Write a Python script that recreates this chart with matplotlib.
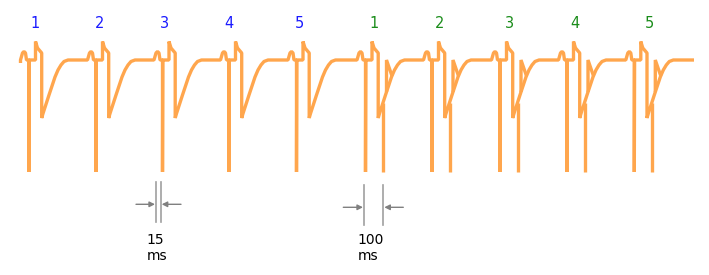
import matplotlib
matplotlib.use("Agg")
import matplotlib.pyplot as plt
import numpy as np

# stimulus times (in pixel units of the picture, x grows to the right, y grows down)
BLUE_SPIKES = [29, 96, 162.5, 229, 296.5]
GREEN_SPIKES = [365.5, 432, 500, 567, 634.3]
BLUE_LABELS = ['1', '2', '3', '4', '5']
GREEN_LABELS = ['1', '2', '3', '4', '5']
BLUE_LABEL_X = [34.7, 99.7, 164.3, 229, 299.7]
GREEN_LABEL_X = [374.3, 439.5, 509.5, 574.5, 649.5]

# one beat: bump, stimulus spike, upstroke, drop and recovery
BEAT_DX = [-8.5, -6.5, -5, -3.5, -2.5, 0, 0, 0.3, 6.5, 6.5, 8.5, 12.7, 12.7, 14, 20, 26, 29, 32, 35, 39]
BEAT_Y = [60, 53, 51.5, 53, 60, 60, 172, 60, 60, 41.5, 48, 53, 118, 113.5, 95, 77, 70, 65, 61.5, 60]

# extra parts of the green beats: second stimulus and the small after-response
SECOND_DX = [17.5, 17.5]
SECOND_Y = [103, 172]
AFTER_DX = [21, 21, 26.5]
AFTER_Y = [92, 60, 76]

TRACE_START = (20.5, 63)
TRACE_END = (694, 60)

SCALES = [
    # label top, label bottom, left line, right line, line top, line bottom, arrow y, arrow lengths
    dict(num='15', lines=(156, 160.7), top=182.3, bottom=221.7, ay=204.3, left=136, right=181, tx=146.7),
    dict(num='100', lines=(364, 383.3), top=185, bottom=225, ay=207.3, left=343.3, right=403.3, tx=357.7),
]

ORANGE = '#ffa64d'
BLUE = '#1a1aff'
GREEN = '#1a8c1a'
GRAY = '#a0a0a0'

fig = plt.figure(figsize=(7.09, 2.75), dpi=100)
ax = fig.add_axes([0, 0, 1, 1])
ax.set_xlim(0, 709)
ax.set_ylim(275, 0)
ax.axis('off')

xs = [TRACE_START[0]]
ys = [TRACE_START[1]]
for x0 in BLUE_SPIKES + GREEN_SPIKES:
    xs.extend(x0 + np.array(BEAT_DX))
    ys.extend(BEAT_Y)
xs.append(TRACE_END[0])
ys.append(TRACE_END[1])
ax.plot(xs, ys, color=ORANGE, lw=2.4, solid_joinstyle='bevel', solid_capstyle='butt')

for x0 in GREEN_SPIKES:
    ax.plot(x0 + np.array(SECOND_DX), SECOND_Y, color=ORANGE, lw=2.4, solid_capstyle='butt')
    ax.plot(x0 + np.array(AFTER_DX), AFTER_Y, color=ORANGE, lw=2.4, solid_joinstyle='miter', solid_capstyle='butt')

for lab, x in zip(BLUE_LABELS, BLUE_LABEL_X):
    ax.text(x, 28.3, lab, color=BLUE, fontsize=10.5, ha='center', va='baseline')
for lab, x in zip(GREEN_LABELS, GREEN_LABEL_X):
    ax.text(x, 28.3, lab, color=GREEN, fontsize=10.5, ha='center', va='baseline')

for s in SCALES:
    for lx in s['lines']:
        ax.plot([lx, lx], [s['top'], s['bottom']], color=GRAY, lw=1.2)
    ax.annotate('', xy=(s['lines'][0] - 1, s['ay']), xytext=(s['left'], s['ay']),
                arrowprops=dict(arrowstyle='-|>', color='#808080', lw=1, mutation_scale=8,
                                shrinkA=0, shrinkB=0))
    ax.annotate('', xy=(s['lines'][1] + 1, s['ay']), xytext=(s['right'], s['ay']),
                arrowprops=dict(arrowstyle='-|>', color='#808080', lw=1, mutation_scale=8,
                                shrinkA=0, shrinkB=0))
    ax.text(s['tx'], 244.3, s['num'], color='black', fontsize=10, ha='left', va='baseline')
    ax.text(s['tx'], 260, 'ms', color='black', fontsize=10, ha='left', va='baseline')

fig.savefig('out.png', dpi=100)
